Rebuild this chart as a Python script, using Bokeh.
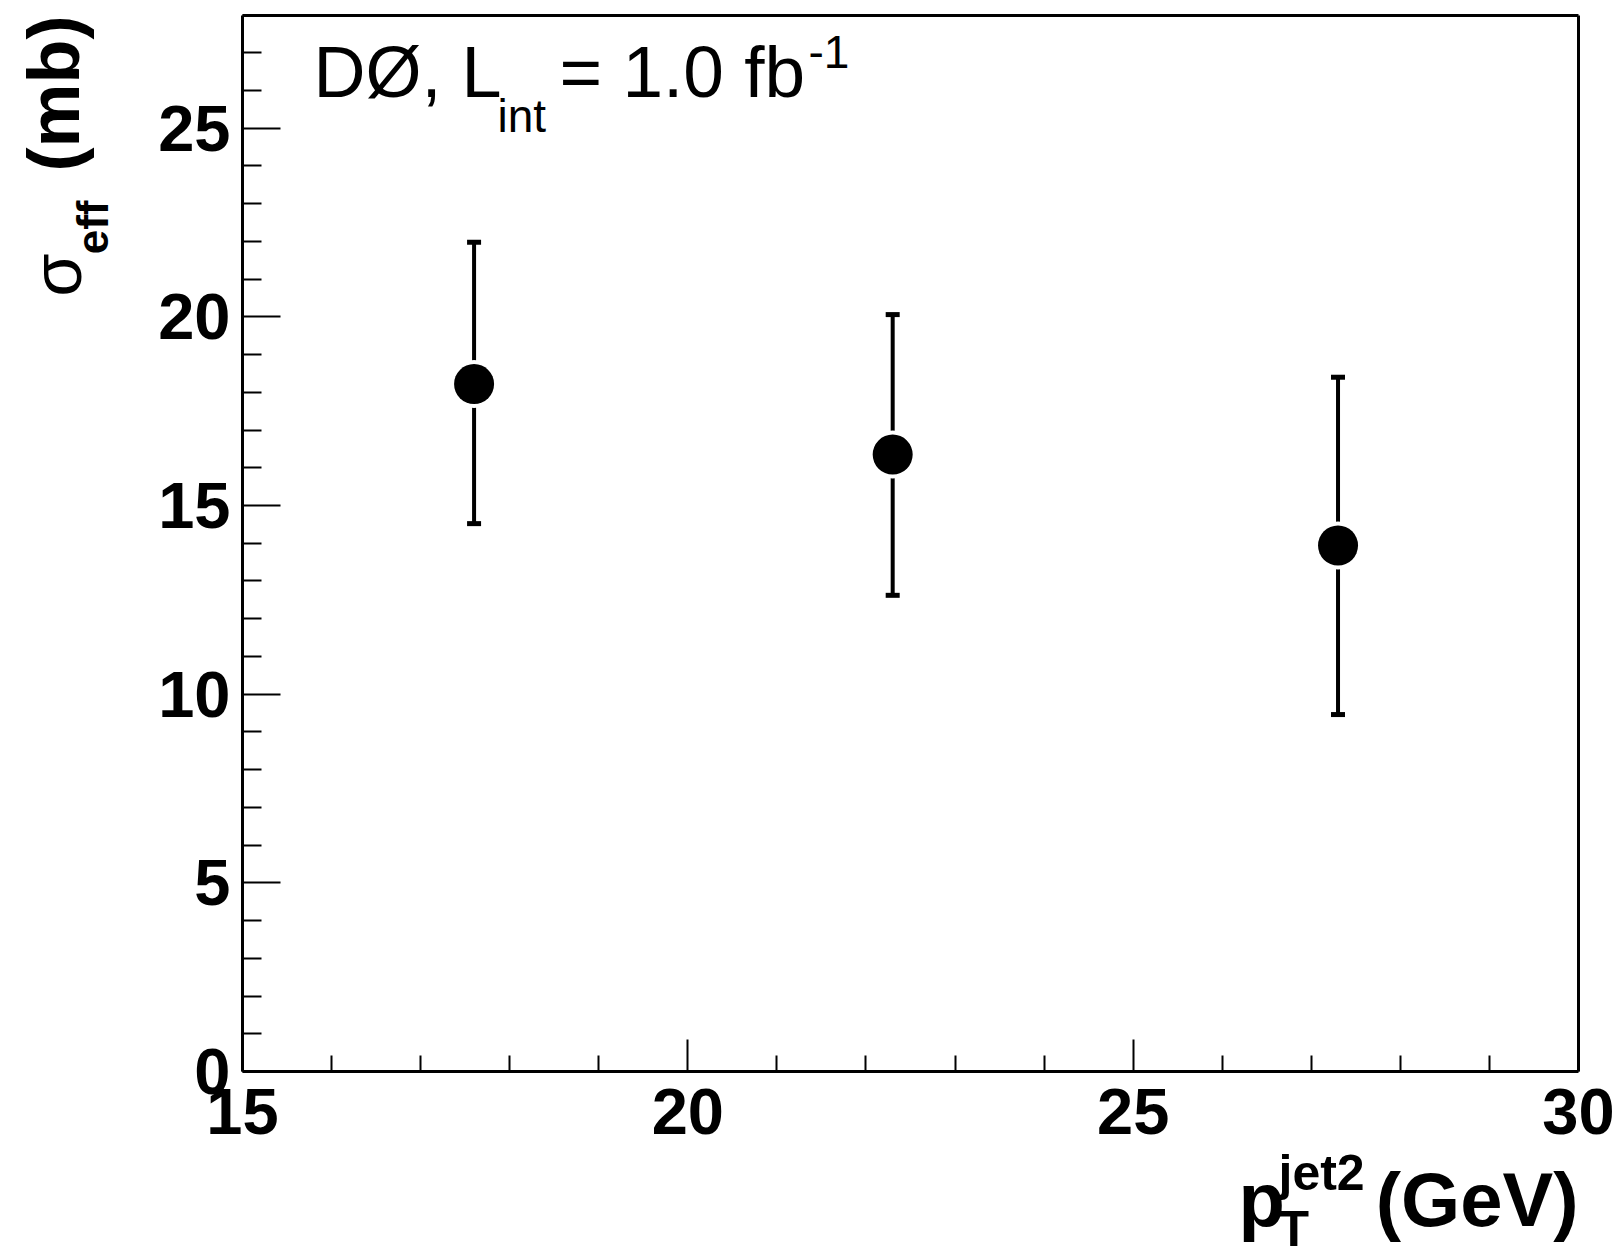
import numpy as np
from bokeh.plotting import figure
from bokeh.models import (Range1d, FixedTicker, ColumnDataSource, Whisker, TeeHead, Label,
                          LinearAxis)
from bokeh.embed import file_html
from bokeh.resources import INLINE

# ---- data ----
pt_jet2 = [17.6, 22.3, 27.3]
sigma_eff = [18.22, 16.35, 13.94]
err_upper = [21.98, 20.06, 18.40]
err_lower = [14.52, 12.62, 9.46]

x_major = [15, 20, 25, 30]
x_minor = [16, 17, 18, 19, 21, 22, 23, 24, 26, 27, 28, 29]
y_major = [0, 5, 10, 15, 20, 25]
y_minor = [v for v in range(0, 29) if v % 5 != 0]
X0, X1 = 15, 30
Y0, Y1 = 0, 28

# ---- layout (canvas pixels) ----
W, H = 1624, 1260
FL, FR, FT, FB = 242, 1578, 14.5, 1071   # drawing box edges
FONT = "Liberation Sans"
K = 0.37  # baseline correction (fraction of font size)

sx = (FR - FL) / (X1 - X0)
sy = (FB - FT) / (Y1 - Y0)
xr = Range1d(X0 - FL / sx, X1 + (W - FR) / sx)
yr = Range1d(Y0 - (H - FB) / sy, Y1 + FT / sy)

p = figure(width=W, height=H, output_backend="svg", toolbar_location=None,
           x_range=xr, y_range=yr, x_axis_location=None, y_axis_location=None,
           min_border=0)
p.grid.visible = False
p.outline_line_color = None
p.background_fill_color = "white"
p.border_fill_color = "white"


def style_axis(ax, maj, mn, tin, mtin, standoff):
    ax.ticker = FixedTicker(ticks=maj, minor_ticks=mn)
    ax.major_tick_in = tin
    ax.major_tick_out = 0
    ax.minor_tick_in = mtin
    ax.minor_tick_out = 0
    ax.major_tick_line_width = 2
    ax.minor_tick_line_width = 2
    ax.axis_line_width = 3
    ax.major_label_text_font = FONT
    ax.major_label_text_font_style = "bold"
    ax.major_label_text_font_size = "65px"
    ax.major_label_text_color = "black"
    ax.major_label_standoff = standoff


xa = LinearAxis(fixed_location=Y0, bounds=(X0, X1))
style_axis(xa, x_major, x_minor, 32, 16, 17)
p.add_layout(xa, "below")
ya = LinearAxis(fixed_location=X0, bounds=(Y0, Y1))
style_axis(ya, y_major, y_minor, 38, 19, 12)
p.add_layout(ya, "left")
ra = LinearAxis(fixed_location=X1, bounds=(Y0, Y1), ticker=FixedTicker(ticks=[], minor_ticks=[]),
                axis_line_width=3, major_tick_in=0, major_tick_out=0, minor_tick_in=0,
                minor_tick_out=0)
p.add_layout(ra, "right")
ta = LinearAxis(fixed_location=Y1, bounds=(X0, X1), ticker=FixedTicker(ticks=[], minor_ticks=[]),
                axis_line_width=3, major_tick_in=0, major_tick_out=0, minor_tick_in=0,
                minor_tick_out=0)
p.add_layout(ta, "above")

src = ColumnDataSource(dict(x=pt_jet2, y=sigma_eff, up=err_upper, lo=err_lower))
wh = Whisker(base="x", upper="up", lower="lo", source=src, line_width=4, line_color="black",
             upper_head=TeeHead(size=14, line_width=5, line_color="black"),
             lower_head=TeeHead(size=14, line_width=5, line_color="black"))
p.add_layout(wh)
p.scatter("x", "y", source=src, size=48, fill_color="white", line_color=None)
p.scatter("x", "y", source=src, size=40, fill_color="black", line_color=None)


def lab(text, x, ytop, size, bold=False, align="left", angle=0.0):
    if angle == 0.0:
        ytop = ytop - K * size
    else:
        x = x - K * size
    p.add_layout(Label(x=x, y=H - ytop, x_units="screen", y_units="screen", text=text,
                       text_font=FONT, text_font_size=f"{size}px",
                       text_font_style="bold" if bold else "normal",
                       text_align=align, text_baseline="alphabetic",
                       angle=angle, text_color="black"))


# annotation
lab("DØ, L", 313, 98, 72)
lab("int", 497, 133, 46)
lab("= 1.0 fb", 559, 98, 73)
lab("-1", 808, 69, 46)

# x axis title
lab("p", 1238, 1227, 76, bold=True)
lab("jet2", 1278, 1191, 50, bold=True)
lab("T", 1278, 1247, 50, bold=True)
lab("(GeV)", 1578, 1227, 76, bold=True, align="right")

# y axis title (rotated)
lab("(mb)", 80, 15, 72, bold=True, align="right", angle=np.pi / 2)
lab("eff", 108, 200, 44, bold=True, align="right", angle=np.pi / 2)
lab("σ", 82, 253, 70, bold=False, align="right", angle=np.pi / 2)

open("out.html", "w").write(file_html(p, INLINE))
